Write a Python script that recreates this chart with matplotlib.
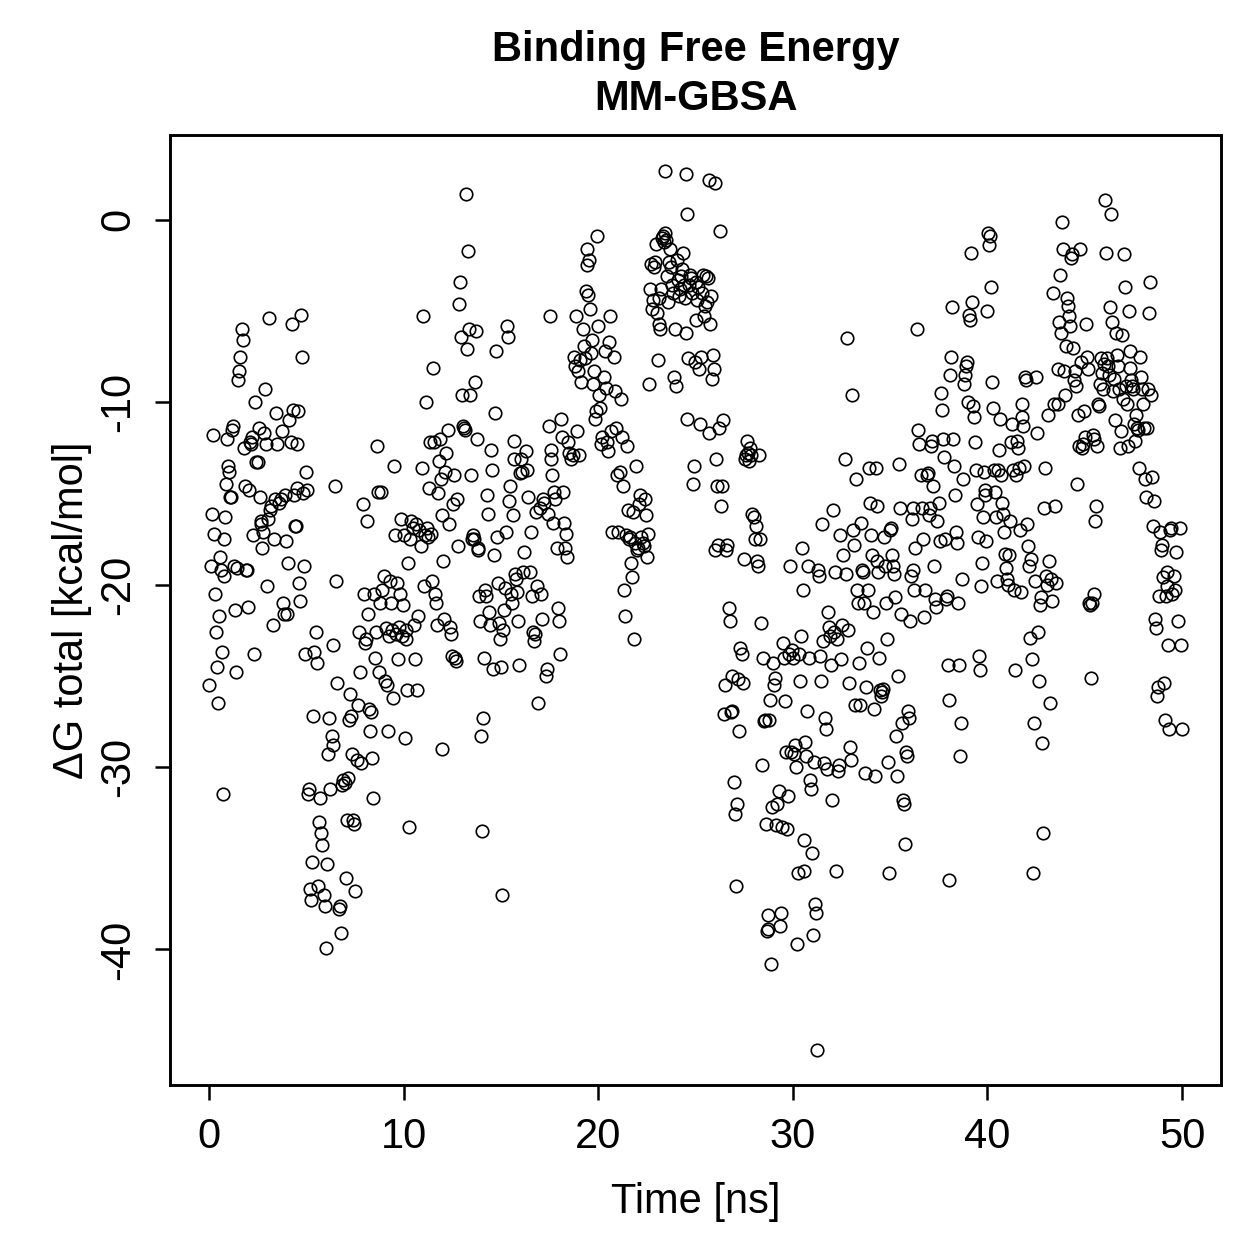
import matplotlib
matplotlib.use("Agg")
import matplotlib.pyplot as plt

# MM-GBSA binding free energy per frame
time_ns = [
    0.0, 0.1, 0.15, 0.2, 0.25, 0.3, 0.35, 0.4, 0.45, 0.5, 0.55, 0.6, 0.65, 0.7, 0.75, 0.8, 0.85, 0.9, 0.95, 1.0,
    1.05, 1.1, 1.15, 1.2, 1.25, 1.3, 1.35, 1.4, 1.45, 1.5, 1.55, 1.6, 1.7, 1.75, 1.8, 1.85, 1.9, 1.95, 2.0, 2.05,
    2.1, 2.15, 2.2, 2.25, 2.3, 2.35, 2.4, 2.5, 2.55, 2.6, 2.65, 2.7, 2.75, 2.8, 2.85, 2.9, 2.95, 3.0, 3.05, 3.1,
    3.15, 3.2, 3.3, 3.35, 3.4, 3.45, 3.5, 3.6, 3.7, 3.75, 3.8, 3.85, 3.9, 3.95, 4.0, 4.05, 4.1, 4.2, 4.25, 4.3,
    4.35, 4.4, 4.45, 4.5, 4.55, 4.6, 4.65, 4.7, 4.75, 4.8, 4.85, 4.9, 4.95, 5.0, 5.05,
    5.1, 5.15, 5.2, 5.25, 5.3, 5.35, 5.4, 5.5, 5.55, 5.6, 5.65, 5.7, 5.75, 5.8, 5.9, 5.95, 6.0, 6.05, 6.1, 6.15,
    6.2, 6.3, 6.35, 6.4, 6.5, 6.55, 6.6, 6.7, 6.75, 6.8, 6.85, 6.9, 7.0, 7.05, 7.1, 7.15, 7.2, 7.25, 7.3, 7.35,
    7.4, 7.45, 7.5, 7.6, 7.65, 7.7, 7.75, 7.8, 7.9, 7.95, 8.0, 8.05, 8.1, 8.15, 8.2, 8.3, 8.35, 8.4, 8.45, 8.5,
    8.55, 8.6, 8.65, 8.7, 8.75, 8.8, 8.85,
    8.9, 9.0, 9.05, 9.1, 9.15, 9.2, 9.25, 9.3, 9.35, 9.4, 9.45, 9.5, 9.55, 9.6, 9.65, 9.7, 9.75, 9.8, 9.85, 9.9,
    9.95, 10.0, 10.05, 10.1, 10.15, 10.2, 10.25, 10.3, 10.35, 10.4, 10.5, 10.55, 10.6, 10.65, 10.7, 10.75, 10.8, 10.9, 10.95, 11.0,
    11.05, 11.1, 11.15, 11.2, 11.25, 11.3, 11.35, 11.4, 11.45, 11.5, 11.55, 11.6, 11.65, 11.7, 11.75, 11.8, 11.85, 11.9, 11.95, 12.0,
    12.05, 12.1,
    12.15, 12.2, 12.3, 12.35, 12.4, 12.45, 12.5, 12.55, 12.6, 12.65, 12.7, 12.75, 12.8, 12.85, 12.9, 12.95, 13.0, 13.05, 13.1, 13.15,
    13.2, 13.25, 13.3, 13.35, 13.4, 13.45, 13.5, 13.55, 13.6, 13.65, 13.7, 13.75, 13.8, 13.85, 13.9, 13.95, 14.0, 14.05, 14.1, 14.15,
    14.2, 14.25, 14.3, 14.35, 14.4, 14.45, 14.5, 14.55, 14.6, 14.65, 14.7, 14.75, 14.8, 14.85, 14.9, 14.95, 15.0, 15.05, 15.1, 15.15,
    15.2, 15.25, 15.3, 15.35, 15.4, 15.45, 15.5, 15.55, 15.6, 15.65, 15.7, 15.75, 15.8, 15.85, 15.9, 15.95,
    16.0, 16.05, 16.1, 16.15, 16.2, 16.3, 16.35, 16.4, 16.5, 16.55, 16.6, 16.65, 16.7, 16.75, 16.8, 16.85, 16.9, 17.0, 17.05, 17.1,
    17.15, 17.2, 17.3, 17.35, 17.4, 17.45, 17.5, 17.55, 17.6, 17.65, 17.7, 17.75, 17.8, 17.9, 17.95, 18.0, 18.05, 18.1, 18.15, 18.2,
    18.25, 18.3, 18.35, 18.4, 18.45, 18.5, 18.6, 18.7, 18.75, 18.8, 18.85, 18.9, 18.95, 19.0, 19.05, 19.1, 19.2, 19.25, 19.3, 19.35,
    19.4, 19.45, 19.5, 19.55, 19.6, 19.65, 19.7, 19.75, 19.8, 19.85, 19.9, 19.95, 20.0, 20.05, 20.1, 20.15, 20.2, 20.3, 20.35, 20.4,
    20.45, 20.5, 20.55, 20.6, 20.65, 20.7, 20.8, 20.85, 20.9, 20.95, 21.0, 21.1, 21.15, 21.2, 21.3, 21.35, 21.4, 21.45, 21.5, 21.55,
    21.6, 21.65, 21.7, 21.75, 21.8, 21.85, 21.9, 21.95, 22.0, 22.05, 22.1, 22.15, 22.2, 22.3, 22.35, 22.4, 22.45, 22.5, 22.55,
    22.6, 22.65, 22.7, 22.75, 22.8, 22.85, 22.9, 22.95, 23.0, 23.05, 23.1, 23.15, 23.2, 23.25, 23.3, 23.35, 23.4, 23.45, 23.5, 23.55,
    23.6, 23.65, 23.7, 23.75, 23.8, 23.85, 23.9, 23.95, 24.0, 24.05, 24.1, 24.15, 24.2, 24.25, 24.3, 24.35, 24.4, 24.45, 24.5, 24.55,
    24.6, 24.65, 24.7, 24.75, 24.8, 24.85, 24.9, 24.95, 25.0, 25.05, 25.1, 25.15, 25.2, 25.25, 25.3, 25.35, 25.4, 25.45, 25.5, 25.55,
    25.6, 25.65, 25.7, 25.75, 25.8, 25.85, 25.9, 25.95, 26.0, 26.05, 26.1, 26.15, 26.2, 26.25, 26.3, 26.35, 26.4, 26.45, 26.5,
    23.45, 24.5, 24.55, 25.7, 26.0,
    26.55, 26.6, 26.7, 26.75, 26.8, 26.85, 26.9, 27.0, 27.05, 27.1, 27.15, 27.2, 27.25, 27.3, 27.4, 27.45, 27.5, 27.55, 27.6, 27.65,
    27.7, 27.75, 27.8, 27.85, 27.9, 28.0, 28.05, 28.1, 28.15, 28.2, 28.25, 28.3, 28.35, 28.4, 28.45, 28.5, 28.55, 28.6, 28.65, 28.7,
    28.75, 28.8, 28.85, 28.9, 28.95, 29.0, 29.05, 29.1, 29.15, 29.2, 29.3, 29.35, 29.4, 29.45, 29.5, 29.55, 29.6, 29.65, 29.7, 29.75,
    29.8, 29.85, 29.9, 29.95,
    30.0, 30.05, 30.1, 30.15, 30.2, 30.25, 30.3, 30.35, 30.4, 30.45, 30.5, 30.55, 30.6, 30.65, 30.7, 30.75, 30.8, 30.85, 30.9, 30.95,
    31.0, 31.05, 31.1, 31.15, 31.2, 31.25, 31.3, 31.35, 31.4, 31.45, 31.5, 31.55, 31.6, 31.65, 31.7, 31.75, 31.8, 31.85, 31.9, 31.95,
    32.0, 32.05, 32.1, 32.15, 32.2, 32.25, 32.3, 32.35, 32.4, 32.5, 32.55, 32.6, 32.7, 32.75, 32.8, 32.85, 32.9, 32.95, 33.0, 33.05,
    33.1, 33.15, 33.2, 33.25, 33.3, 33.35, 33.4, 33.45, 33.5, 33.55, 33.6, 33.65, 33.7, 33.75, 33.8, 33.85, 33.9, 33.95, 34.0, 34.05,
    34.1, 34.15, 34.2, 34.25, 34.3, 34.35, 34.4, 34.45, 34.5, 34.55, 34.6, 34.65, 34.7, 34.75, 34.8, 34.85, 34.9, 34.95,
    35.0, 35.05, 35.1, 35.15, 35.2, 35.25, 35.3, 35.35, 35.4, 35.45, 35.5, 35.55, 35.6, 35.65, 35.7, 35.75, 35.8, 35.85, 35.9, 35.95,
    36.0, 36.05, 36.1, 36.15, 36.2, 36.25, 36.3, 36.4, 36.45, 36.5, 36.6, 36.65, 36.7, 36.75, 36.8, 36.9, 36.95, 37.0, 37.05, 37.1,
    37.15, 37.2, 37.25, 37.3, 37.35, 37.4, 37.5, 37.55, 37.6, 37.65, 37.7, 37.75, 37.8, 37.85, 37.9, 37.95, 38.0, 38.05, 38.1, 38.15,
    38.2, 38.25, 38.3, 38.35, 38.4, 38.45, 38.5, 38.55, 38.6, 38.65, 38.7, 38.75, 38.8, 38.85, 38.9, 38.95, 39.0, 39.05, 39.1, 39.15,
    39.2, 39.25, 39.3, 39.35, 39.4, 39.45, 39.5, 39.55, 39.6, 39.65, 39.7, 39.75, 39.8, 39.85, 39.9, 39.95,
    40.0, 40.05, 40.1, 40.15, 40.2, 40.25, 40.3, 40.35, 40.4, 40.45, 40.5, 40.55, 40.6, 40.65, 40.7, 40.75, 40.8, 40.85, 40.9, 40.95,
    41.0, 41.05, 41.1, 41.15, 41.2, 41.25, 41.3, 41.35, 41.4, 41.45, 41.5, 41.55, 41.6, 41.65, 41.7, 41.75, 41.8, 41.85, 41.9, 41.95,
    42.0, 42.05, 42.1, 42.15, 42.2, 42.25, 42.3, 42.35, 42.4, 42.45, 42.5, 42.55, 42.6, 42.65, 42.7, 42.75, 42.8, 42.85, 42.9, 42.95,
    43.0, 43.05, 43.1, 43.15, 43.2, 43.25, 43.3, 43.35, 43.4, 43.45, 43.5, 43.6, 43.65, 43.7, 43.75, 43.8, 43.85, 43.9, 43.95, 44.0,
    44.05, 44.1, 44.15, 44.2, 44.25, 44.3, 44.35, 44.4, 44.45, 44.5, 44.55, 44.6, 44.65, 44.7, 44.75, 44.8, 44.85, 44.9, 44.95, 45.0,
    45.05, 45.1, 45.15, 45.2, 45.25, 45.3, 45.35, 45.4, 45.45, 45.5, 45.55, 45.6, 45.65, 45.7, 45.75, 45.8, 45.85, 45.9, 45.95, 46.0,
    46.05, 46.1, 46.15, 46.2, 46.25, 46.3, 46.35, 46.4, 46.45, 46.5, 46.55, 46.6, 46.65, 46.7, 46.75, 46.8, 46.85, 46.9, 46.95, 47.0,
    47.05, 47.1, 47.15, 47.2, 47.25, 47.3, 47.35, 47.4, 47.45, 47.5, 47.55, 47.6, 47.65, 47.7, 47.75, 47.8, 47.85, 47.9, 47.95, 48.0,
    48.05, 48.1, 48.15, 48.2, 48.25, 48.3, 48.35, 48.4, 48.45, 48.5, 48.55, 48.6, 48.65, 48.7, 48.75, 48.8, 48.85, 48.9, 48.95, 49.0,
    49.05, 49.1, 49.15, 49.2, 49.25, 49.3, 49.35, 49.4, 49.45, 49.5, 49.6, 49.65, 49.7, 49.8, 49.9, 49.95, 50.0,
]

dg_total = [
    -25.5, -19.0, -16.1, -11.8, -17.2, -20.5, -22.6, -24.5, -26.5, -21.7, -18.5, -19.2, -23.7, -31.5, -19.5, -17.5, -16.3, -14.5, -12.0, -13.5,
    -13.8, -15.2, -15.2, -11.5, -11.3, -19.0, -21.4, -24.8, -19.1, -8.8, -8.3, -7.5, -6.0, -6.6, -12.5, -14.6, -19.2, -19.2, -21.2, -14.8,
    -12.2, -12.3, -11.9, -17.3, -23.8, -10.0, -13.3, -13.3, -11.4, -15.2, -16.5, -16.7, -18.0, -17.1, -11.7, -9.3, -12.3, -20.1, -16.4, -5.4,
    -15.9, -15.7, -22.2, -17.5, -15.3, -10.6, -12.3, -15.5, -15.3, -11.6, -21.0, -21.6, -15.1, -17.6, -21.6, -18.8, -11.0, -12.2, -5.7, -10.4,
    -15.1, -16.8, -16.8, -14.7, -12.3, -10.5, -19.9, -20.9, -5.2, -7.5, -15.0, -19.0, -23.8, -13.8, -14.8,
    -31.5, -31.2, -36.7, -37.3, -35.2, -27.2, -23.7, -22.6, -24.3, -36.5, -33.0, -31.7, -33.6, -34.3, -37.0, -37.6, -39.9, -35.3, -29.3, -27.3,
    -31.2, -28.3, -28.8, -23.3, -14.6, -19.8, -25.4, -37.8, -37.6, -39.1, -31.0, -30.7, -30.9, -36.1, -32.9, -30.6, -27.4, -26.0, -27.2, -29.3,
    -32.9, -33.1, -36.8, -29.6, -26.6, -22.6, -24.8, -29.8, -15.6, -20.5, -23.2, -23.0, -16.5, -21.6, -26.8, -28.0, -27.0, -29.5, -31.7, -20.5,
    -24.0, -22.6, -12.4, -14.9, -24.8, -21.0, -14.9,
    -20.3, -19.5, -25.3, -22.4, -25.5, -28.0, -22.8, -19.8, -21.0, -22.5, -26.2, -13.5, -17.3, -22.7, -19.9, -24.1, -22.3, -20.5, -16.4, -22.8,
    -21.1, -17.3, -28.4, -23.0, -22.5, -25.8, -18.8, -33.3, -17.5, -16.5, -16.9, -22.2, -24.1, -16.7, -25.8, -21.7, -17.0, -17.9, -13.6, -5.3,
    -20.1, -17.3, -10.0, -16.9, -17.4, -14.7, -12.2, -17.2, -19.8, -8.1, -12.2, -20.5, -21.0, -22.2, -15.0, -13.2, -12.0, -14.2, -29.0, -16.2,
    -18.7, -21.9,
    -13.8, -12.8, -11.5, -16.7, -22.3, -22.7, -23.9, -15.6, -14.0, -24.0, -24.2, -15.3, -17.9, -4.6, -3.4, -6.4, -9.6, -11.3, -11.4, -11.5,
    1.4, -7.1, -1.7, -6.0, -9.6, -14.0, -17.5, -17.3, -17.5, -8.9, -6.1, -12.0, -18.1, -18.0, -20.6, -22.0, -28.3, -33.5, -27.3, -24.0,
    -20.3, -20.6, -15.1, -16.1, -21.5, -22.2, -12.6, -13.7, -24.6, -18.4, -10.6, -7.2, -17.4, -19.9, -22.1, -23.0, -24.5, -37.0, -22.5, -21.4,
    -20.2, -17.1, -5.8, -6.4, -15.4, -14.6, -20.5, -21.0, -16.2, -12.1, -13.1, -19.4, -19.7, -20.4, -22.0, -24.4,
    -13.9, -13.1, -13.8, -19.3, -18.2, -12.7, -13.7, -15.2, -19.3, -17.1, -20.6, -22.6, -23.1, -22.7, -16.0, -20.1, -26.5, -15.8, -20.5, -21.9,
    -15.3, -15.5, -25.0, -24.6, -16.1, -11.3, -5.3, -13.1, -12.6, -14.0, -16.6, -14.9, -15.3, -18.0, -21.3, -22.0, -23.8, -10.9, -11.9, -14.9,
    -16.6, -18.0, -17.2, -18.5, -12.2, -12.8, -13.1, -12.9, -7.5, -8.0, -5.3, -11.6, -8.3, -12.9, -7.7, -8.9, -6.0, -6.9, -7.6, -3.9,
    -2.5, -1.6, -4.1, -2.2, -4.9, -7.3, -6.6, -9.0, -8.3, -10.9, -10.5, -0.9, -5.8, -9.6, -10.3, -12.3, -11.9, -8.6, -7.2, -9.2,
    -12.2, -12.7, -6.7, -5.3, -11.6, -17.1, -7.5, -9.4, -11.4, -14.0, -17.1, -13.8, -9.8, -11.9, -14.6, -20.3, -21.7, -17.3, -12.4, -15.9,
    -17.5, -17.4, -18.8, -19.6, -16.0, -23.0, -17.7, -13.5, -18.1, -18.0, -15.6, -15.1, -17.4, -17.7, -17.9, -15.3, -16.2, -18.5, -17.2,
    -9.0, -3.8, -2.4, -4.9, -4.4, -2.6, -2.3, -1.3, -5.1, -7.7, -5.7, -4.3, -6.0, -3.8, -1.0, -0.9, -1.2, -0.7, -1.1, -3.1,
    -4.5, -2.3, -1.6, -2.6, -3.6, -4.0, -8.6, -6.0, -9.1, -2.2, -3.3, -4.2, -3.8, -3.1, -2.7, -1.8, -3.6, -4.3, -6.2, -10.9,
    -7.6, -3.6, -3.0, -3.2, -4.0, -14.5, -13.5, -7.8, -5.5, -3.4, -4.4, -3.7, -8.2, -11.2, -7.5, -4.0, -3.0, -5.3, -4.7, -3.1,
    -4.5, -3.2, -11.7, -5.7, -4.2, -8.7, -7.4, -8.2, -18.1, -13.1, -14.6, -17.8, -11.4, -0.6, -15.7, -14.6, -11.0, -27.1, -25.5,
    2.7, 2.5, 0.3, 2.2, 2.0,
    -18.1, -17.8, -21.3, -22.0, -27.0, -26.9, -25.0, -30.8, -32.6, -36.5, -32.0, -25.2, -28.0, -23.5, -23.8, -25.4, -18.6, -13.1, -12.9, -12.1,
    -12.8, -13.2, -12.5, -12.9, -16.1, -16.3, -17.5, -16.8, -18.7, -19.0, -12.9, -17.5, -22.1, -29.9, -24.0, -27.5, -27.4, -33.1, -39.0, -38.9,
    -38.1, -27.4, -26.3, -40.8, -32.2, -24.3, -25.5, -25.1, -33.2, -32.0, -31.3, -38.7, -38.0, -33.3, -23.2, -24.0, -26.4, -29.2, -33.4, -31.6,
    -23.8, -19.0, -29.2, -23.6,
    -24.0, -29.3, -28.8, -30.0, -39.7, -35.8, -23.8, -25.3, -22.8, -18.0, -20.3, -34.0, -35.7, -28.6, -29.4, -26.9, -19.0, -24.0, -30.7, -31.2,
    -34.7, -39.2, -29.7, -37.5, -38.0, -45.5, -19.2, -19.5, -23.9, -25.3, -16.7, -23.1, -29.8, -27.3, -27.9, -30.1, -21.5, -22.3, -22.8, -24.4,
    -31.8, -15.9, -22.6, -19.3, -35.7, -23.0, -30.2, -29.9, -17.3, -24.1, -22.2, -18.4, -13.1, -19.4, -6.5, -22.5, -25.4, -28.9, -29.6, -9.6,
    -17.0, -17.8, -26.6, -14.2, -20.3, -21.0, -24.3, -26.6, -16.6, -19.2, -19.3, -21.0, -30.3, -25.6, -23.5, -20.3, -13.6, -15.5, -17.3, -18.4,
    -21.5, -26.8, -30.5, -13.6, -15.7, -18.7, -19.3, -24.0, -25.8, -26.1, -25.9, -25.7, -17.4, -19.0, -21.0, -23.0, -29.7, -35.8,
    -17.0, -16.9, -18.4, -19.0, -19.4, -20.7, -28.3, -30.5, -25.0, -13.4, -15.8, -21.6, -27.6, -31.8, -32.0, -34.2, -29.2, -29.4, -26.9, -27.3,
    -22.0, -19.5, -16.4, -15.8, -19.2, -20.3, -18.0, -6.0, -11.5, -12.3, -14.0, -15.8, -17.5, -21.8, -20.3, -14.0, -13.9, -16.2, -15.8, -12.4,
    -12.1, -14.6, -19.0, -20.8, -21.2, -16.5, -15.5, -17.6, -9.5, -10.4, -12.0, -13.0, -17.5, -20.8, -20.6, -24.4, -26.3, -36.2, -8.5, -7.5,
    -4.8, -12.0, -13.5, -15.1, -17.1, -17.7, -21.0, -24.4, -29.4, -27.6, -19.7, -14.2, -9.0, -8.5, -8.0, -7.8, -10.0, -5.2, -5.5, -1.8,
    -4.5, -10.2, -10.8, -12.2, -13.7, -15.6, -17.4, -23.9, -24.7, -20.1, -18.8, -16.3, -13.8, -14.8, -15.1, -17.6,
    -5.0, -0.7, -1.4, -0.9, -3.7, -8.9, -10.3, -13.7, -14.9, -16.3, -19.8, -13.7, -12.6, -10.9, -14.0, -15.5, -16.1, -17.1, -18.3, -19.1,
    -19.7, -20.0, -18.4, -16.5, -12.2, -11.2, -13.7, -20.3, -24.7, -14.0, -12.1, -12.5, -13.6, -17.0, -20.4, -10.8, -10.1, -11.3, -13.5, -8.6,
    -8.8, -16.7, -17.9, -19.0, -22.9, -18.6, -24.1, -35.8, -27.6, -19.8, -8.6, -11.7, -22.6, -25.3, -21.1, -20.7, -28.7, -33.6, -15.8, -13.6,
    -19.5, -20.0, -10.7, -18.7, -26.5, -19.7, -20.9, -4.0, -10.1, -15.7, -19.9, -10.1, -8.2, -5.6, -3.0, -6.2, -0.1, -1.6, -8.3, -9.6,
    -6.9, -4.3, -4.7, -5.3, -5.8, -2.1, -1.9, -7.0, -8.8, -8.3, -9.1, -14.5, -10.7, -12.4, -1.6, -7.8, -12.5, -12.3, -10.5, -11.9,
    -5.7, -7.5, -8.2, -21.0, -21.1, -25.1, -21.0, -11.8, -12.0, -20.5, -16.5, -15.7, -12.4, -10.1, -10.2, -9.0, -7.6, -8.4, -9.3, -7.9,
    1.1, -1.8, -7.6, -8.0, -8.5, -4.8, 0.3, -5.6, -9.4, -8.7, -11.0, -6.2, -7.4, -8.0, -9.3, -12.5, -11.6, -6.3, -9.8, -1.9,
    -3.7, -9.1, -10.1, -12.4, -5.0, -7.2, -8.1, -8.8, -9.1, -9.3, -11.2, -12.1, -10.7, -11.4, -11.5, -13.6, -7.5, -8.6, -9.3, -10.1,
    -11.4, -14.2, -15.2, -11.4, -9.3, -5.1, -3.4, -9.6, -14.1, -16.8, -15.4, -21.9, -22.4, -26.1, -25.6, -20.6, -17.1, -18.1, -17.8, -19.6,
    -25.4, -27.4, -20.6, -19.3, -20.1, -23.3, -27.9, -17.0, -16.9, -20.5, -19.5, -20.3, -18.2, -22.0, -16.9, -23.3, -27.9,
]

x_ticks = [0, 10, 20, 30, 40, 50]
y_ticks = [-40, -30, -20, -10, 0]

plt.rcParams['font.family'] = ['Liberation Sans', 'DejaVu Sans']

fig = plt.figure(figsize=(1259 / 300, 1259 / 300), dpi=300)
ax = fig.add_axes([170 / 1259, 1 - 1085 / 1259, 1051 / 1259, 950 / 1259])

ax.plot(time_ns, dg_total, linestyle='none', marker='o', markersize=3.0,
        markerfacecolor='none', markeredgecolor='black', markeredgewidth=0.4)

ax.set_xlim(-2, 52)
ax.set_ylim(-47.43, 4.65)
ax.set_xticks(x_ticks)
ax.set_yticks(y_ticks)
ax.set_yticklabels([str(v) for v in y_ticks], rotation=90, va='center')
ax.tick_params(direction='out', length=3.6, width=0.6, labelsize=10, pad=4)

for s in ax.spines.values():
    s.set_linewidth(0.7)

ax.set_xlabel("Time [ns]", fontsize=10, labelpad=6)
ax.set_ylabel("ΔG total [kcal/mol]", fontsize=10, labelpad=1.5)
ax.set_title("Binding Free Energy\nMM-GBSA", fontsize=10, fontweight='bold', pad=6, linespacing=1.3)

fig.savefig("out.png", dpi=300)
